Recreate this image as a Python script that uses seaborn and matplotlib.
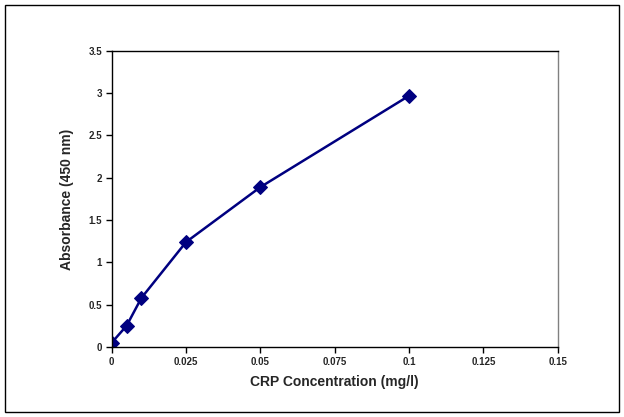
import matplotlib
matplotlib.use("Agg")
import matplotlib.pyplot as plt
import seaborn as sns
import pandas as pd
from matplotlib.patches import Rectangle

conc = [0, 0.005, 0.01, 0.025, 0.05, 0.1]
absorb = [0.05, 0.25, 0.58, 1.24, 1.89, 2.97]
xticks = [0, 0.025, 0.05, 0.075, 0.1, 0.125, 0.15]
xtick_labels = ["0", "0.025", "0.05", "0.075", "0.1", "0.125", "0.15"]
yticks = [0, 0.5, 1, 1.5, 2, 2.5, 3, 3.5]
ytick_labels = ["0", "0.5", "1", "1.5", "2", "2.5", "3", "3.5"]

sns.set_style("white")
plt.rcParams['font.family'] = ['Liberation Sans', 'DejaVu Sans']

df = pd.DataFrame({'conc': conc, 'abs': absorb})
fig = plt.figure(figsize=(6.24, 4.17), dpi=100)
fig.patches.append(Rectangle((0.008, 0.012), 0.984, 0.976, transform=fig.transFigure,
                             fill=False, edgecolor='black', linewidth=1))
ax = fig.add_axes([0.179, 0.168, 0.715, 0.71])
sns.lineplot(data=df, x='conc', y='abs', ax=ax, color='#000080', marker='D',
             markersize=7, linewidth=1.8, markeredgecolor='#000080')
ax.set_xlim(0, 0.15)
ax.set_ylim(0, 3.5)
ax.set_xticks(xticks)
ax.set_xticklabels(xtick_labels, fontsize=7, fontweight='bold')
ax.set_yticks(yticks)
ax.set_yticklabels(ytick_labels, fontsize=7, fontweight='bold')
ax.tick_params(axis='both', length=4, width=1, direction='out', color='black', pad=3,
               bottom=True, left=True)
ax.set_xlabel("CRP Concentration (mg/l)", fontsize=10, fontweight='bold', labelpad=6)
ax.set_ylabel("Absorbance (450 nm)", fontsize=10, fontweight='bold', labelpad=10)
for s in ax.spines.values():
    s.set_color('black')
    s.set_linewidth(1)
ax.spines['right'].set_color('#808080')
fig.savefig("out.png", dpi=100)
